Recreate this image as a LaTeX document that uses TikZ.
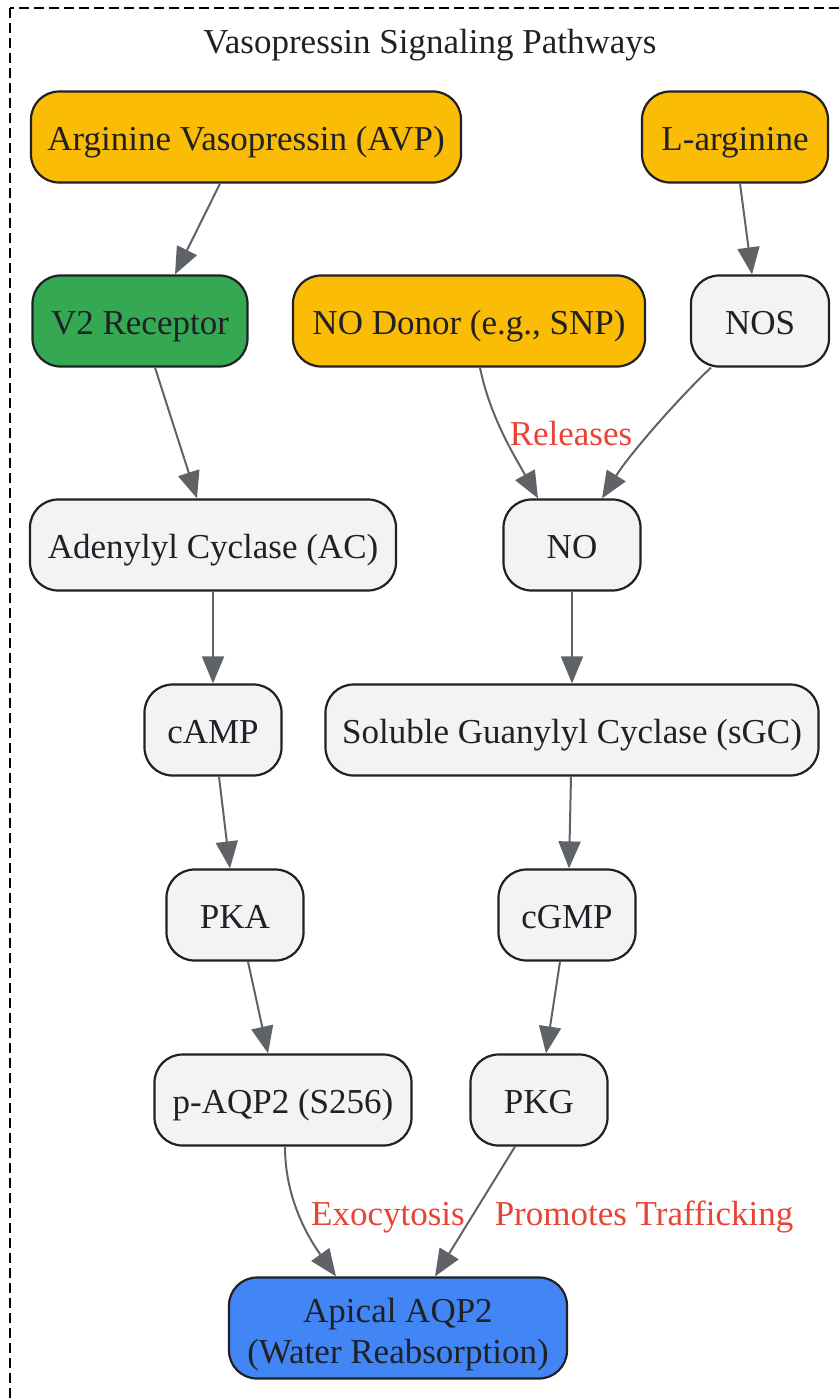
\documentclass[tikz,border=0pt]{standalone}
\usepackage{fontspec}
\setmainfont{Liberation Serif}
\usetikzlibrary{arrows.meta}
\definecolor{ylw}{HTML}{FBBC05}
\definecolor{grn}{HTML}{34A853}
\definecolor{blu}{HTML}{4285F4}
\definecolor{gry}{HTML}{F1F3F4}
\definecolor{txt}{HTML}{202124}
\definecolor{edg}{HTML}{5F6368}
\definecolor{lbl}{HTML}{EA4335}
\tikzset{
  box/.style={draw=txt, line width=2.2pt, rounded corners=28pt, text=txt, inner sep=0pt,
    minimum height=91pt, text height=26pt, text depth=0pt,
    font=\fontsize{35}{41}\selectfont, align=center},
  yl/.style={box, fill=ylw},
  gr/.style={box, fill=grn},
  gy/.style={box, fill=gry},
  bl/.style={box, fill=blu},
  edge/.style={draw=edg, line width=2pt, -{Triangle[length=27pt,width=22pt]}},
  elabel/.style={text=lbl, font=\fontsize{35}{41}\selectfont, inner sep=0pt, anchor=base}
}
\begin{document}
\begin{tikzpicture}[x=1pt,y=-1pt]
\useasboundingbox (0,0) rectangle (840,1400);
\draw[black, line width=2pt, dash pattern=on 10pt off 5pt] (10,8) rectangle (870,1430);
\node[text=txt, font=\fontsize{35}{41}\selectfont, inner sep=0pt, anchor=base] (title) at (430,53) {Vasopressin Signaling Pathways};

\node[yl, minimum width=430pt] (avp) at (246,137) {Arginine Vasopressin (AVP)};
\node[yl, minimum width=186pt] (larg) at (735,137) {L-arginine};
\node[gr, minimum width=215pt] (v2) at (140,321) {V2 Receptor};
\node[yl, minimum width=352pt] (donor) at (469,321) {NO Donor (e.g., SNP)};
\node[gy, minimum width=138pt] (nos) at (760,321) {NOS};
\node[gy, minimum width=366pt] (ac) at (213,545) {Adenylyl Cyclase (AC)};
\node[gy, minimum width=137pt] (no) at (572,545) {NO};
\node[gy, minimum width=137pt] (camp) at (213,730) {cAMP};
\node[gy, minimum width=493pt] (sgc) at (572,730) {Soluble Guanylyl Cyclase (sGC)};
\node[gy, minimum width=137pt] (pka) at (235,915) {PKA};
\node[gy, minimum width=137pt] (cgmp) at (567,915) {cGMP};
\node[gy, minimum width=257pt] (paqp) at (283,1100) {p-AQP2 (S256)};
\node[gy, minimum width=137pt] (pkg) at (539,1100) {PKG};
\node[bl, minimum width=338pt, minimum height=101pt, text height=70pt] (apical) at (398,1328) {Apical AQP2\\(Water Reabsorption)};

\draw[edge] ([xshift=-26pt]avp.south) -- ([xshift=35pt]v2.north);
\draw[edge] ([xshift=5pt]larg.south) -- ([xshift=-8pt]nos.north);
\draw[edge] ([xshift=15pt]v2.south) -- ([xshift=-16pt]ac.north);
\draw[edge] ([xshift=11pt]donor.south) .. controls +(10,50) and +(-22,-40) .. ([xshift=-34pt]no.north);
\draw[edge] ([xshift=-49pt]nos.south) .. controls +(-30,28) and +(28,-45) .. ([xshift=30pt]no.north);
\draw[edge] (ac.south) -- (camp.north);
\draw[edge] (no.south) -- (sgc.north);
\draw[edge] ([xshift=6pt]camp.south) -- ([xshift=-5pt]pka.north);
\draw[edge] ([xshift=-1pt]sgc.south) -- ([xshift=2pt]cgmp.north);
\draw[edge] ([xshift=13pt]pka.south) -- ([xshift=-15pt]paqp.north);
\draw[edge] ([xshift=-7pt]cgmp.south) -- ([xshift=7pt]pkg.north);
\draw[edge] ([xshift=2pt]paqp.south) .. controls +(0,55) and +(-25,-35) .. ([xshift=-62pt]apical.north);
\draw[edge] ([xshift=-24pt]pkg.south) -- ([xshift=37pt]apical.north);

\node[elabel] (l1) at (571,445) {Releases};
\node[elabel] (l2) at (388,1225) {Exocytosis};
\node[elabel] (l3) at (644,1225) {Promotes Trafficking};
\end{tikzpicture}
\end{document}
